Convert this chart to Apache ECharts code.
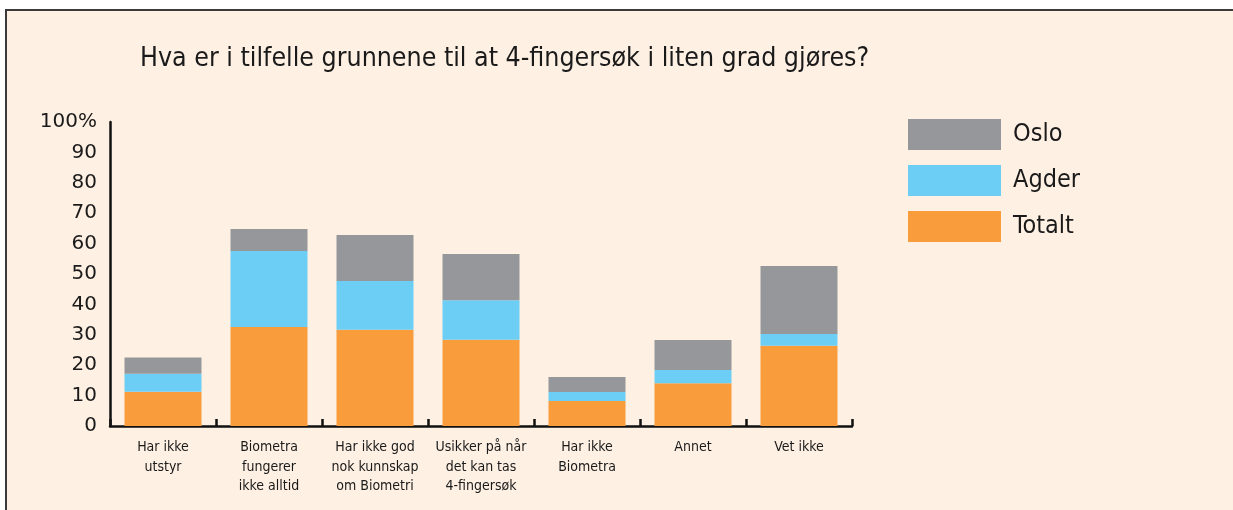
<!DOCTYPE html>
<html>
<head>
    <meta charset="UTF-8">
    <title>4-fingersøk</title>
    <style>
        body { margin: 0; background: #ffffff; }
    </style>
</head>
<body>
    <div id="main" style="width: 1233px;height:510px;"></div>
    <script src="https://cdn.jsdelivr.net/npm/echarts@6.0.0/dist/echarts.min.js"></script>
    <script type="text/javascript">
        // data (stacked segments, in %)
        var categories = ['Har ikke\nutstyr', 'Biometra\nfungerer\nikke alltid', 'Har ikke god\nnok kunnskap\nom Biometri',
            'Usikker på når\ndet kan tas\n4-fingersøk', 'Har ikke\nBiometra', 'Annet', 'Vet ikke'];
        var totalt = [11.3, 32.6, 31.7, 28.4, 8.2, 14.1, 26.4];
        var agder = [5.9, 25.0, 16.0, 13.0, 3.0, 4.3, 3.9];
        var oslo = [5.3, 7.2, 15.1, 15.2, 4.9, 9.9, 22.3];
        var yTicks = [0, 10, 20, 30, 40, 50, 60, 70, 80, 90, 100];

        var narrow = "'Liberation Sans Narrow', 'DejaVu Sans Condensed', sans-serif";
        var myChart = echarts.init(document.getElementById('main'));

        function bar(name, data, color) {
            return {
                name: name,
                type: 'bar',
                stack: 'all',
                barWidth: 77,
                data: data,
                itemStyle: { color: color },
                emphasis: { disabled: true }
            };
        }

        var option = {
            backgroundColor: '#ffffff',
            animation: false,
            title: {
                text: 'Hva er i tilfelle grunnene til at 4-fingersøk i liten grad gjøres?',
                left: 135,
                top: 41,
                textStyle: { fontFamily: narrow, fontSize: 26.5, fontWeight: 'normal', color: '#1a1a1a' }
            },
            legend: {
                data: ['Oslo', 'Agder', 'Totalt'],
                orient: 'vertical',
                left: 908,
                top: 119,
                padding: 0,
                itemWidth: 93,
                itemHeight: 31,
                itemGap: 15,
                icon: 'rect',
                textStyle: { fontFamily: narrow, fontSize: 25, color: '#1a1a1a', padding: [0, 0, 0, 7] }
            },
            grid: { left: 110, right: 381, top: 122, bottom: 84 },
            xAxis: {
                type: 'category',
                data: categories,
                axisLine: { lineStyle: { color: '#111', width: 2.5 } },
                axisTick: { show: true, interval: 0, inside: true, length: 7, lineStyle: { color: '#111', width: 2.5 } },
                axisLabel: { interval: 0, fontFamily: narrow, fontSize: 14, color: '#1a1a1a', lineHeight: 19.5, margin: 12 }
            },
            yAxis: {
                type: 'value',
                min: 0,
                max: 100,
                interval: 10,
                splitLine: { show: false },
                axisLine: { show: true, lineStyle: { color: '#111', width: 2.5 } },
                axisTick: { show: false },
                axisLabel: {
                    fontFamily: "'DejaVu Sans', sans-serif",
                    fontSize: 20,
                    color: '#1a1a1a',
                    margin: 13,
                    formatter: function (v) { return yTicks.indexOf(v) < 0 ? '' : (v === 100 ? v + '%' : v); }
                }
            },
            // peach panel with a dark frame on top and left, running off the right and bottom
            graphic: [{
                type: 'rect',
                left: 5,
                top: 9,
                z: -10,
                shape: { width: 1260, height: 540 },
                style: { fill: '#fef0e3', stroke: '#3a3a3a', lineWidth: 2 },
                silent: true
            }],
            series: [
                bar('Totalt', totalt, '#f89c3c'),
                bar('Agder', agder, '#6ccef5'),
                bar('Oslo', oslo, '#96979b')
            ]
        };

        myChart.setOption(option);
    </script>
</body>
</html>
